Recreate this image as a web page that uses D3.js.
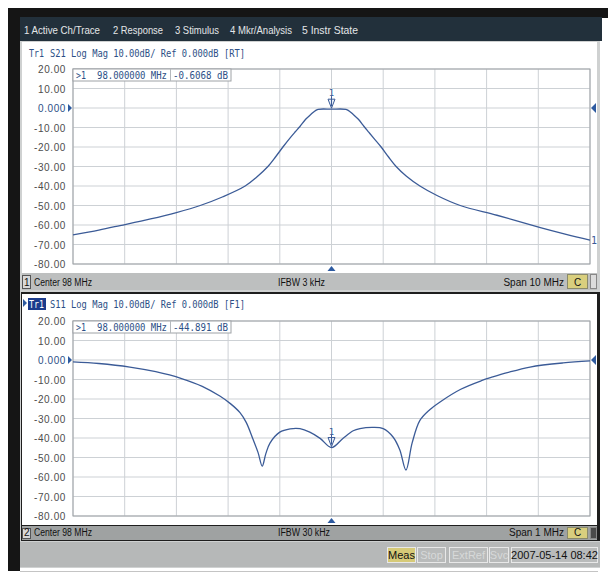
<!DOCTYPE html>
<html>
<head>
<meta charset="utf-8">
<script src="https://cdnjs.cloudflare.com/ajax/libs/d3/7.8.5/d3.min.js"></script>
<style>
  body { margin: 0; background: #fff; }
  svg { display: block; }
  .mono { font-family: "DejaVu Sans Mono", monospace; }
  .ui { font-family: "Liberation Sans", Arial, sans-serif; }
</style>
</head>
<body>
<div id="screen"></div>
<script>
// ------- values -------
let menuItems = ["1 Active Ch/Trace", "2 Response", "3 Stimulus", "4 Mkr/Analysis", "5 Instr State"];

let yTicks = [20, 10, 0, -10, -20, -30, -40, -50, -60, -70, -80];
let yTickLabels = ["20.00", "10.00", "0.000", "-10.00", "-20.00", "-30.00", "-40.00", "-50.00", "-60.00", "-70.00", "-80.00"];

// channel 1 : S21, center 98 MHz, span 10 MHz
let s21Freq = [93.0, 93.5, 93.91, 94.5, 95.0, 95.46, 95.9, 96.33, 96.55, 96.77, 96.92, 97.06, 97.2, 97.3, 97.39, 97.5, 97.6, 97.68, 97.74,
               98.0, 98.28, 98.34, 98.42, 98.52, 98.63, 98.72, 98.82, 98.96, 99.1, 99.25, 99.45, 99.71, 100.05, 100.49, 101.2, 102.04, 102.5, 103.0];
let s21Mag = [-65.1, -62.6, -60.3, -56.9, -53.6, -50, -45.5, -40, -35.5, -30, -25, -20, -15.3, -12.2, -9.5, -5.8, -3.3, -1.5, -0.7,
              -0.6, -0.7, -1.5, -3.3, -5.8, -9.5, -12.4, -15.6, -20, -25, -30, -35, -40, -45, -50, -55, -61.3, -64.5, -67.7];

// channel 2 : S11, center 98 MHz, span 1 MHz (offsets in kHz)
let s11OffsetKHz = [-500, -450, -390, -340, -290, -250, -216, -195, -177, -165, -152, -142, -134, -127, -119, -100, -80, -61, -42, -22,
                    0, 22, 42, 55, 80, 100, 119, 132, 144, 156, 171, 190, 210, 250, 290, 312, 340, 384, 448, 500];
let s11Mag = [-1.0, -1.8, -3.6, -6, -9.5, -13.5, -18.5, -22.5, -27, -32, -40.5, -47.5, -54.4, -48, -42.6, -37, -35.3, -35.2, -37, -40.2,
              -44.9, -40.2, -36.3, -35.2, -34.6, -35.2, -39.5, -46, -56.4, -42.5, -31, -25.5, -21.5, -15, -10.6, -8.7, -6.5, -3.6, -1.5, -0.5];

let markerFreq = 98;
let ch1Marker = -0.6068;
let ch2Marker = -44.891;

// ------- layout -------
let width = 608, height = 574;
let plotLeft = 73, plotRight = 590;
let traceColor = "#3b5b97";
let textBlue = "#2c4f86";

let svg = d3.select("#screen").append("svg")
  .attr("width", width)
  .attr("height", height);

// outer frame
svg.append("rect").attr("x", 0).attr("y", 0).attr("width", width).attr("height", height).attr("fill", "#fff");
svg.append("rect").attr("x", 20).attr("y", 17).attr("width", 580).attr("height", 551).attr("fill", "#cfd1d1");
svg.append("rect").attr("x", 8).attr("y", 8).attr("width", 600).attr("height", 10).attr("fill", "#151515");
svg.append("rect").attr("x", 8).attr("y", 8).attr("width", 12).attr("height", 563).attr("fill", "#151515");
svg.append("line").attr("x1", 20).attr("x2", 598).attr("y1", 571.5).attr("y2", 571.5).attr("stroke", "#c4c4c4");

// menu bar
svg.append("rect").attr("x", 20).attr("y", 17).attr("width", 582).attr("height", 24).attr("fill", "#22303b");
let menuPos = [24, 113, 175, 230, 302];
let menuLen = [76, 50, 44, 62, 56];
svg.selectAll(".menu").data(menuItems).enter().append("text")
  .attr("class", "ui")
  .attr("x", (d, i) => menuPos[i])
  .attr("y", 34)
  .attr("textLength", (d, i) => menuLen[i])
  .attr("lengthAdjust", "spacingAndGlyphs")
  .attr("font-size", 11)
  .attr("fill", "#e4e6e8")
  .text(d => d);

// draws one channel window
function drawChannel(opt) {
  let g = svg.append("g");

  g.append("rect").attr("x", 22).attr("y", opt.winTop).attr("width", 575).attr("height", opt.winBottom - opt.winTop).attr("fill", "#fff");

  let xScale = d3.scaleLinear().domain(opt.xDomain).range([plotLeft, plotRight]);
  let yScale = d3.scaleLinear().domain([-80, 20]).range([opt.plotBottom, opt.plotTop]);

  // grid
  g.selectAll(".hgrid").data(yTicks).enter().append("line")
    .attr("x1", plotLeft).attr("x2", plotRight)
    .attr("y1", d => yScale(d)).attr("y2", d => yScale(d))
    .attr("stroke", "#cdd1d5").attr("stroke-width", 1);
  g.selectAll(".vgrid").data(xScale.ticks(10)).enter().append("line")
    .attr("x1", d => xScale(d)).attr("x2", d => xScale(d))
    .attr("y1", opt.plotTop).attr("y2", opt.plotBottom)
    .attr("stroke", "#cdd1d5").attr("stroke-width", 1);
  g.append("rect")
    .attr("x", plotLeft).attr("y", opt.plotTop)
    .attr("width", plotRight - plotLeft).attr("height", opt.plotBottom - opt.plotTop)
    .attr("fill", "none").attr("stroke", "#9ea2a6");

  // tick labels
  g.selectAll(".ylab").data(yTicks).enter().append("text")
    .attr("class", "ui")
    .attr("x", 66)
    .attr("y", d => yScale(d) + 4)
    .attr("text-anchor", "end")
    .attr("font-size", 10)
    .attr("letter-spacing", 0.6)
    .attr("fill", d => d === 0 ? textBlue : "#4d4d4d")
    .text((d, i) => yTickLabels[i]);

  // reference arrows at 0 dB
  let y0 = yScale(0);
  g.append("path").attr("d", "M" + 68 + "," + (y0 - 4) + "L" + 72 + "," + y0 + "L" + 68 + "," + (y0 + 4) + "Z").attr("fill", "#2d5aa0");
  g.append("path").attr("d", "M" + 596 + "," + (y0 - 5) + "L" + 591 + "," + y0 + "L" + 596 + "," + (y0 + 5) + "Z").attr("fill", "#2d5aa0");

  // title line
  if (opt.active) {
    g.append("path").attr("d", "M23," + (opt.titleY - 9) + "L27," + (opt.titleY - 5) + "L23," + (opt.titleY - 1) + "Z").attr("fill", "#2d5aa0");
    g.append("rect").attr("x", 28).attr("y", opt.titleY - 10).attr("width", 18).attr("height", 12).attr("fill", "#1c3c8c");
  }
  g.append("text")
    .attr("class", "mono")
    .attr("x", 29).attr("y", opt.titleY)
    .attr("font-size", 10.5)
    .attr("textLength", 15).attr("lengthAdjust", "spacingAndGlyphs")
    .attr("fill", opt.active ? "#fff" : textBlue)
    .text("Tr1");
  g.append("text")
    .attr("class", "mono")
    .attr("x", 50).attr("y", opt.titleY)
    .attr("font-size", 10.5)
    .attr("textLength", 195).attr("lengthAdjust", "spacingAndGlyphs")
    .attr("fill", textBlue)
    .text(opt.title);

  // marker readout box
  g.append("rect").attr("x", plotLeft).attr("y", opt.plotTop).attr("width", 158).attr("height", 12)
    .attr("fill", "#fff").attr("stroke", "#9ea2a6");
  g.append("line").attr("x1", 170.5).attr("x2", 170.5).attr("y1", opt.plotTop).attr("y2", opt.plotTop + 12).attr("stroke", "#b5b9bd");
  g.append("text").attr("class", "mono").attr("x", 76).attr("y", opt.plotTop + 10).attr("font-size", 10).attr("fill", textBlue)
    .attr("textLength", 10).attr("lengthAdjust", "spacingAndGlyphs").text(">1");
  g.append("text").attr("class", "mono").attr("x", 97).attr("y", opt.plotTop + 10).attr("font-size", 10).attr("fill", textBlue)
    .attr("textLength", 70).attr("lengthAdjust", "spacingAndGlyphs").text("98.000000 MHz");
  g.append("text").attr("class", "mono").attr("x", 173).attr("y", opt.plotTop + 10).attr("font-size", 10).attr("fill", textBlue)
    .attr("textLength", opt.readoutLen).attr("lengthAdjust", "spacingAndGlyphs").text(opt.readout);

  // trace
  let line = d3.line()
    .x((d, i) => xScale(opt.freq[i]))
    .y(d => yScale(d))
    .curve(d3.curveCatmullRom.alpha(0.5));
  g.append("path")
    .datum(opt.mag)
    .attr("d", line)
    .attr("fill", "none")
    .attr("stroke", traceColor)
    .attr("stroke-width", 1.3);

  // marker 1
  let mx = xScale(markerFreq);
  let my = yScale(opt.markerValue) - 1;
  g.append("path")
    .attr("d", "M" + (mx - 3.5) + "," + (my - 9) + "L" + (mx + 3.5) + "," + (my - 9) + "L" + mx + "," + my + "Z")
    .attr("fill", "#e6eef8").attr("stroke", traceColor).attr("stroke-width", 1);
  g.append("line").attr("x1", mx).attr("x2", mx).attr("y1", my - 12).attr("y2", my - 2).attr("stroke", traceColor);
  g.append("text").attr("class", "mono").attr("x", mx).attr("y", my - 12).attr("text-anchor", "middle")
    .attr("font-size", 9).attr("fill", traceColor).text("1");

  if (opt.endLabel) {
    g.append("text").attr("class", "mono").attr("x", plotRight + 1)
      .attr("y", yScale(opt.mag[opt.mag.length - 1]) + 4)
      .attr("font-size", 10).attr("fill", traceColor).text("1");
  }

  // center stimulus marker under the grid
  let cy = opt.plotBottom + 2;
  g.append("path").attr("d", "M" + (mx - 4) + "," + (cy + 5) + "L" + mx + "," + cy + "L" + (mx + 4) + "," + (cy + 5) + "Z").attr("fill", "#2d5aa0");

  // channel status bar
  let sb = opt.barTop;
  g.append("rect").attr("x", 22).attr("y", sb).attr("width", 575).attr("height", opt.barH).attr("fill", opt.barColor);
  g.append("rect").attr("x", 22.5).attr("y", sb + 2.5).attr("width", 8).attr("height", opt.barH - 4)
    .attr("fill", "#d8d8d8").attr("stroke", "#555");
  g.append("text").attr("class", "ui").attr("x", 24).attr("y", sb + opt.barH - 4).attr("font-size", 10).attr("fill", "#111").text(opt.ch);
  g.append("text").attr("class", "ui").attr("x", 34).attr("y", sb + opt.barH - 4).attr("font-size", 10).attr("fill", "#111")
    .attr("textLength", 58).attr("lengthAdjust", "spacingAndGlyphs").text("Center 98 MHz");
  g.append("text").attr("class", "ui").attr("x", 278).attr("y", sb + opt.barH - 4).attr("font-size", 10).attr("fill", "#111")
    .attr("textLength", opt.ifbwLen).attr("lengthAdjust", "spacingAndGlyphs").text(opt.ifbw);
  g.append("text").attr("class", "ui").attr("x", 564).attr("y", sb + opt.barH - 4).attr("font-size", 10).attr("fill", "#111")
    .attr("text-anchor", "end").text(opt.span);
  g.append("rect").attr("x", 567.5).attr("y", sb + 1.5).attr("width", 20).attr("height", opt.barH - 3)
    .attr("fill", "#d9cf7e").attr("stroke", "#8a8a6a");
  g.append("text").attr("class", "ui").attr("x", 577.5).attr("y", sb + opt.barH - 4).attr("font-size", 10)
    .attr("text-anchor", "middle").attr("fill", "#111").text("C");
  g.append("rect").attr("x", 590.5).attr("y", sb + 1.5).attr("width", 6).attr("height", opt.barH - 3)
    .attr("fill", opt.active ? "#4a4a4a" : "#dcdcdc").attr("stroke", "#888");
}

drawChannel({
  winTop: 42, winBottom: 273, plotTop: 69, plotBottom: 264, titleY: 57,
  xDomain: [93, 103], freq: s21Freq, mag: s21Mag,
  title: "S21 Log Mag 10.00dB/ Ref 0.000dB [RT]",
  readout: "-0.6068 dB", readoutLen: 55, markerValue: ch1Marker, endLabel: true,
  barTop: 273, barH: 17, barColor: "#bdbfbf", ch: "1",
  ifbw: "IFBW 3 kHz", ifbwLen: 47, span: "Span 10 MHz", active: false
});

// active window border
svg.append("rect").attr("x", 21).attr("y", 292).attr("width", 579).attr("height", 249).attr("fill", "#1e1e1e");

drawChannel({
  winTop: 294, winBottom: 525, plotTop: 321, plotBottom: 516, titleY: 308,
  xDomain: [97.5, 98.5], freq: s11OffsetKHz.map(k => 98 + k / 1000), mag: s11Mag,
  title: "S11 Log Mag 10.00dB/ Ref 0.000dB [F1]",
  readout: "-44.891 dB", readoutLen: 55, markerValue: ch2Marker, endLabel: false,
  barTop: 526, barH: 14, barColor: "#9fa2a2", ch: "2",
  ifbw: "IFBW 30 kHz", ifbwLen: 52, span: "Span 1 MHz", active: true
});

// instrument status line
svg.append("rect").attr("x", 20).attr("y", 542).attr("width", 580).attr("height", 25).attr("fill", "#b6b8b8");
let statusItems = ["Meas", "Stop", "ExtRef", "Svc", "2007-05-14 08:42"];
let statusX = [387, 417, 449, 489, 511];
let statusW = [28, 28, 38, 19, 86];
let statusOn = [true, false, false, false, true];
statusItems.forEach(function(s, i) {
  svg.append("rect").attr("x", statusX[i] + 0.5).attr("y", 547.5).attr("width", statusW[i]).attr("height", 15)
    .attr("fill", i === 0 ? "#d6ca78" : "#b9bbbb").attr("stroke", "#e8e8e8");
  svg.append("text").attr("class", "ui").attr("x", statusX[i] + statusW[i] / 2 + 0.5).attr("y", 559)
    .attr("text-anchor", "middle").attr("font-size", 11)
    .attr("fill", statusOn[i] ? "#111" : "#d7d9d9")
    .text(s);
});
</script>
</body>
</html>
